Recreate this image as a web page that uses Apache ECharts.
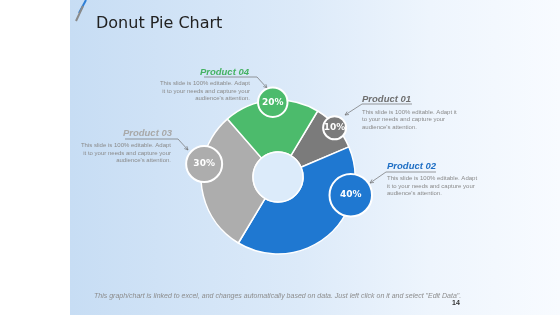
<!DOCTYPE html>
<html>
<head>
<meta charset="utf-8">
<script src="https://cdn.jsdelivr.net/npm/echarts@6/dist/echarts.min.js"></script>
<style>
  html, body { margin: 0; padding: 0; }
  #chart {
    width: 560px;
    height: 315px;
    background: linear-gradient(to right, #ffffff 0, #ffffff 70px, #c7ddf4 70px, #dceaf9 300px, #eef5fd 430px, #f8fbff 560px);
  }
</style>
</head>
<body>
<div id="chart"></div>
<script>
// 数据
const products = ['Product 01', 'Product 02', 'Product 03', 'Product 04']
const shares = [10, 40, 30, 20]
const colors = ['#7b7b7b', '#1f78d1', '#adadad', '#4cbb6c']
const titleColors = ['#6e6e6e', '#1d6ec4', '#a8a8a8', '#45b262']
const note = 'This slide is 100% editable. Adapt\nit to your needs and capture your\naudience\'s attention.'
const note01 = 'This slide is 100% editable. Adapt it\nto your needs and capture your\naudience\'s attention.'

// 气泡标签所在角度（顺时针，自正上方起）
const bubbleAngles = [49, 104, 280, 356]

const cx = 278
const cy = 177

const mChart = echarts.init(document.getElementById('chart'))

// 箭头线
const arrowLine = (pts) => {
  const tip = pts[pts.length - 1]
  const prev = pts[pts.length - 2]
  const a = Math.atan2(prev[1] - tip[1], prev[0] - tip[0])
  const len = 4
  const head = [
    [tip[0] + len * Math.cos(a + 0.45), tip[1] + len * Math.sin(a + 0.45)],
    tip,
    [tip[0] + len * Math.cos(a - 0.45), tip[1] + len * Math.sin(a - 0.45)]
  ]
  return [
    { type: 'polyline', shape: { points: pts }, style: { stroke: '#707070', lineWidth: 0.7, fill: null } },
    { type: 'polyline', shape: { points: head }, style: { stroke: '#707070', lineWidth: 0.7, fill: null } }
  ]
}

const label = (text, x, y, align, color) => ({
  type: 'text',
  style: { text, x, y, align, verticalAlign: 'middle', fill: color, font: 'italic bold 9.5px "Liberation Sans", Arial, sans-serif' }
})

const desc = (text, x, y, align) => ({
  type: 'text',
  style: { text, x, y, align, verticalAlign: 'top', fill: '#8a8a8a', lineHeight: 7.5, font: '6px "Liberation Sans", Arial, sans-serif' }
})

const options = {
  title: {
    text: 'Donut Pie Chart',
    left: 96,
    top: 16,
    padding: 0,
    textStyle: { fontFamily: 'DejaVu Sans', fontSize: 16, fontWeight: 'normal', color: '#222' }
  },
  polar: { center: [cx, cy], radius: 77 },
  angleAxis: { type: 'value', min: 0, max: 360, startAngle: 90, clockwise: true, show: false },
  radiusAxis: { type: 'value', min: 0, max: 77, show: false },
  graphic: [
    // 左上角装饰线
    { type: 'line', shape: { x1: 86, y1: 0, x2: 79, y2: 13 }, style: { stroke: '#2f7fd6', lineWidth: 2 } },
    { type: 'line', shape: { x1: 83, y1: 6, x2: 76, y2: 21 }, style: { stroke: '#8a8a8a', lineWidth: 2 } },
    label(products[3], 249, 72, 'right', titleColors[3]),
    desc(note, 250, 80, 'right'),
    ...arrowLine([[204, 77], [257, 77], [267, 88]]),
    label(products[2], 172, 133, 'right', titleColors[2]),
    desc(note, 171, 142, 'right'),
    ...arrowLine([[125, 139], [178, 139], [188, 150]]),
    label(products[0], 362, 99, 'left', titleColors[0]),
    desc(note01, 362, 108.5, 'left'),
    ...arrowLine([[412, 104], [362, 104], [345, 115]]),
    label(products[1], 387, 166, 'left', titleColors[1]),
    desc(note, 387, 175, 'left'),
    ...arrowLine([[436, 172], [386, 172], [370, 183]]),
    {
      type: 'text',
      style: {
        text: 'This graph/chart is linked to excel, and changes automatically based on data. Just left click on it and select "Edit Data".',
        x: 94, y: 296, verticalAlign: 'middle', fill: '#8c8c8c',
        font: 'italic 7px "Liberation Sans", Arial, sans-serif'
      }
    },
    {
      type: 'text',
      style: { text: '14', x: 452, y: 303, verticalAlign: 'middle', fill: '#333', font: 'bold 7px "Liberation Sans", Arial, sans-serif' }
    }
  ],
  series: [
    {
      type: 'pie',
      center: [cx, cy],
      radius: [25, 77],
      startAngle: 59,
      clockwise: true,
      silent: true,
      label: { show: false },
      labelLine: { show: false },
      itemStyle: { borderColor: '#fff', borderWidth: 1.5 },
      data: products.map((name, i) => ({ name, value: shares[i], itemStyle: { color: colors[i] } }))
    },
    {
      // 中心圆
      type: 'pie',
      center: [cx, cy],
      radius: [0, 25],
      silent: true,
      label: { show: false },
      labelLine: { show: false },
      itemStyle: { color: '#dcebfa', borderColor: '#fff', borderWidth: 1.5 },
      data: [{ value: 1 }]
    },
    {
      // 百分比气泡
      type: 'scatter',
      coordinateSystem: 'polar',
      silent: true,
      z: 5,
      symbolSize: (val) => 16.5 + val[2] * 0.65,
      label: {
        show: true,
        position: 'inside',
        formatter: (p) => p.value[2] + '%',
        color: '#fff',
        fontFamily: 'DejaVu Sans',
        fontWeight: 'bold',
        fontSize: 9
      },
      data: shares.map((v, i) => ({
        value: [75, bubbleAngles[i], v],
        itemStyle: { color: colors[i], borderColor: '#fff', borderWidth: 2, opacity: 1 }
      }))
    }
  ]
}
mChart.setOption(options)
</script>
</body>
</html>
